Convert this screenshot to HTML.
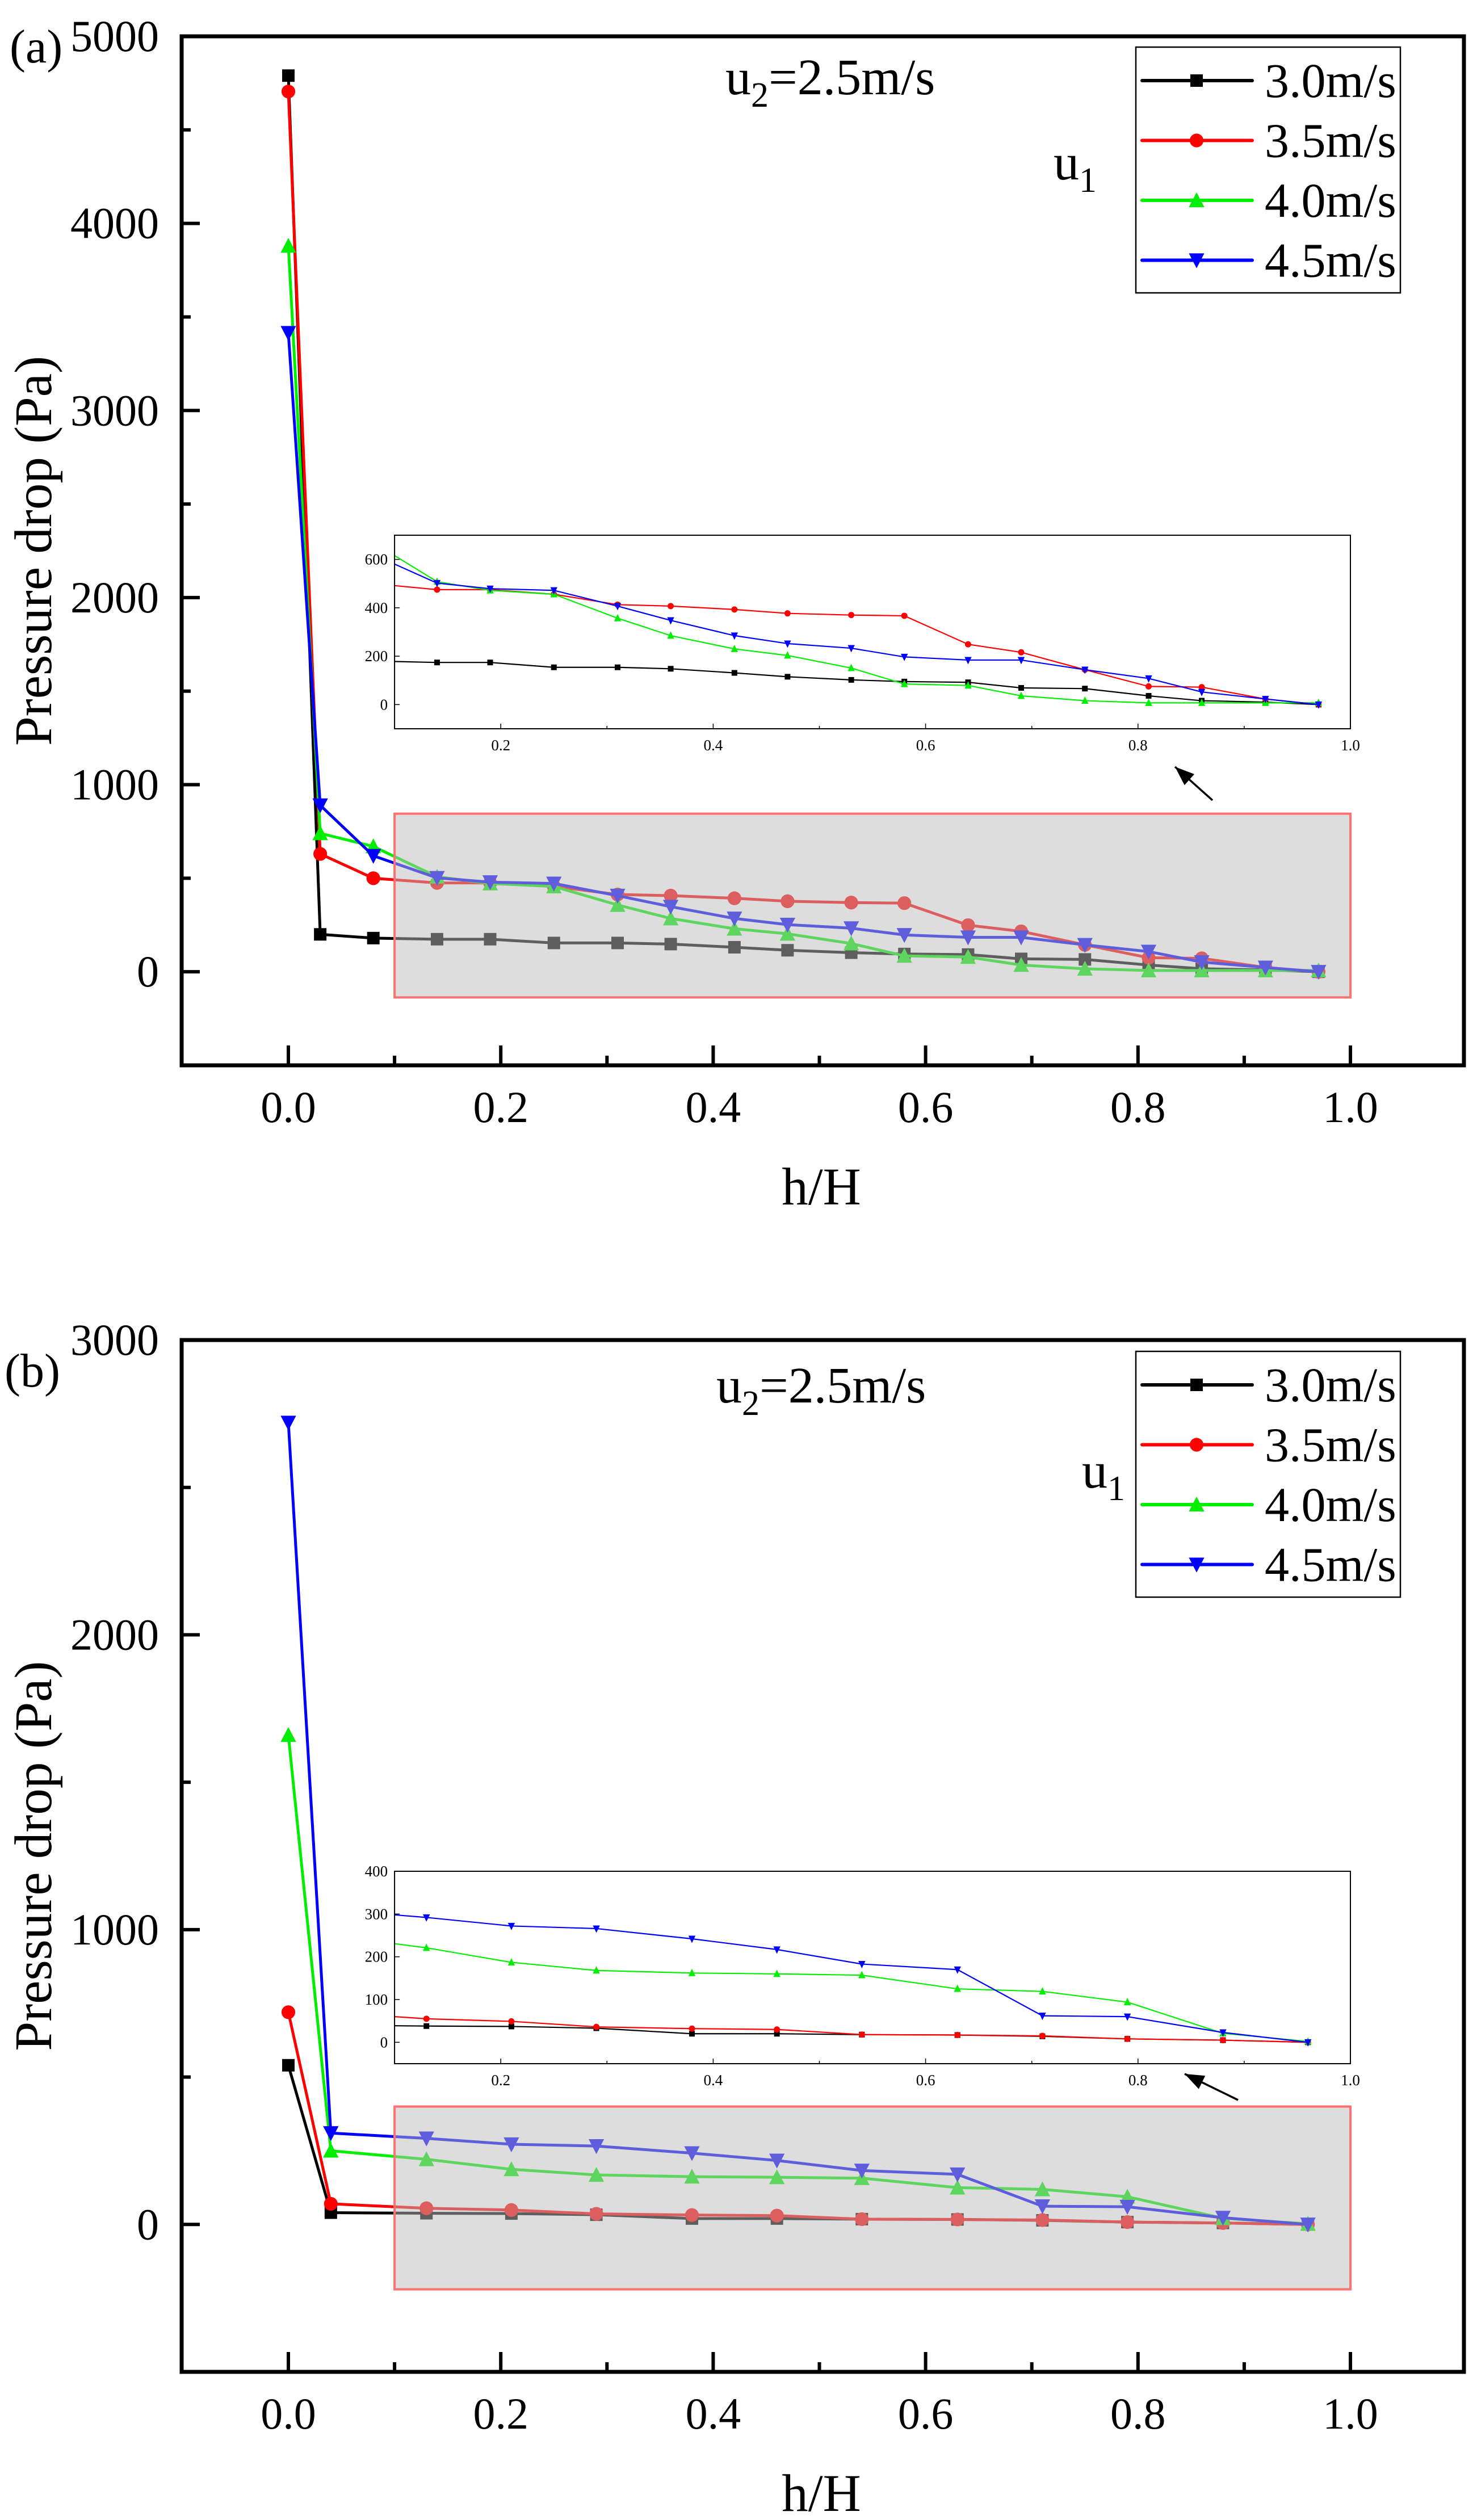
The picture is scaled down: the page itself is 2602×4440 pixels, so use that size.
<!DOCTYPE html>
<html><head><meta charset="utf-8"><style>
html,body{margin:0;padding:0;background:#fff;}
svg{display:block;font-family:"Liberation Serif",serif;}
</style></head><body>
<svg id="chart" xmlns="http://www.w3.org/2000/svg" width="2602" height="4440" viewBox="0 0 2602 4440"></svg>
<script>
// ---------- Data ----------
const seriesNames = ["3.0m/s","3.5m/s","4.0m/s","4.5m/s"];
const seriesColors = ["#000000","#ff0000","#00ee00","#0000ff"];
const markerShapes = ["square","circle","up","down"];

const xA = [0,0.03,0.08,0.14,0.19,0.25,0.31,0.36,0.42,0.47,0.53,0.58,0.64,0.69,0.75,0.81,0.86,0.92,0.97];
const a30 = [4790,200,180,174,174,154,154,148,131,115,102,95,92,69,66,36,16,10,0];
const a35 = [4705,630,500,475,475,456,413,407,393,377,370,367,249,216,144,75,72,23,0];
const a40 = [3880,740,670,508,472,456,357,285,230,203,151,85,79,36,16,7,7,7,7];
const a45 = [3415,890,620,502,479,472,407,348,285,252,233,197,184,184,144,108,52,23,0];
const yTicksA = [0,1000,2000,3000,4000,5000];
const insetYTicksA = [0,200,400,600];

const xB = [0,0.04,0.13,0.21,0.29,0.38,0.46,0.54,0.63,0.71,0.79,0.88,0.96];
const b30 = [540,40,38,37,33,20,20,18,17,14,8,5,0];
const b35 = [720,70,55,49,36,32,30,18,17,15,8,5,0];
const b40 = [1660,250,221,187,168,162,160,157,125,119,94,21,2];
const b45 = [2720,310,292,272,266,242,217,183,170,62,60,23,0];
const yTicksB = [0,1000,2000,3000];
const insetYTicksB = [0,100,200,300,400];

const xTicks = [0,0.2,0.4,0.6,0.8,1.0];
const insetXTicks = [0.2,0.4,0.6,0.8,1.0];

// ---------- Helpers ----------
const NS = "http://www.w3.org/2000/svg";
const svg = document.getElementById("chart");
function mk(tag, attrs, parent){
  const e = document.createElementNS(NS, tag);
  for (const k in attrs) e.setAttribute(k, attrs[k]);
  (parent||svg).appendChild(e);
  return e;
}
function marker(shape, cx, cy, s, color, parent){
  let e;
  if (shape==="square") e = mk("rect",{x:cx-s/2,y:cy-s/2,width:s,height:s,fill:color},parent);
  else if (shape==="circle") e = mk("circle",{cx:cx,cy:cy,r:s*0.55,fill:color},parent);
  else if (shape==="up") { const h=s*1.1; e = mk("polygon",{points:`${cx-s*0.62},${cy+h/2} ${cx+s*0.62},${cy+h/2} ${cx},${cy-h/2-2}`,fill:color},parent); }
  else { const h=s*1.1; e = mk("polygon",{points:`${cx-s*0.62},${cy-h/2} ${cx+s*0.62},${cy-h/2} ${cx},${cy+h/2+2}`,fill:color},parent); }
  return e;
}

function drawPanel(cfg){
  const g = mk("g",{});
  
  
  const L=320, R=2579, T=cfg.top, B=cfg.bottom;
  const X = v => 508 + (v)*1871;
  const Y = v => B - (v - cfg.ymin)/(cfg.ymax-cfg.ymin)*(B-T);

  // series lines + markers
  cfg.series.forEach((vals,i)=>{
    const pts = cfg.xs.map((x,j)=>`${X(x)},${Y(vals[j])}`).join(" ");
    const pl = mk("polyline",{points:pts,fill:"none",stroke:seriesColors[i],"stroke-width":5,"stroke-linejoin":"round"},g);
    
    
    cfg.xs.forEach((x,j)=>{
      const m = marker(markerShapes[i], X(x), Y(vals[j]), 22, seriesColors[i], g);
      
      
    });
  });

  // highlight box
  const hb = mk("rect",{x:X(0.1),y:Y(cfg.boxTop),width:X(1.0)-X(0.1),height:Y(cfg.boxBot)-Y(cfg.boxTop),fill:"rgba(188,188,188,0.5)",stroke:"#ff7070","stroke-width":4},g);
  
  

  // frame
  const fr = mk("rect",{x:L,y:T,width:R-L,height:B-T,fill:"none",stroke:"#000","stroke-width":7},g);
  
  

  // y ticks
  for (let v=cfg.ymin+500; v<=cfg.ymax; v+=500){
    const major = v%1000===0;
    mk("line",{x1:L,x2:L+(major?32:16),y1:Y(v),y2:Y(v),stroke:"#000","stroke-width":6},g);
  }
  cfg.yticks.forEach(v=>{
    const t = mk("text",{x:280,y:Y(v)+26,"text-anchor":"end","font-size":78},g);
    t.textContent = v;
    
    
  });
  // x ticks
  for (let k=0;k<=10;k++){
    const v=k/10, major=k%2===0;
    mk("line",{x1:X(v),x2:X(v),y1:B,y2:B-(major?35:17),stroke:"#000","stroke-width":6},g);
  }
  xTicks.forEach(v=>{
    const t = mk("text",{x:X(v),y:B+100,"text-anchor":"middle","font-size":78},g);
    t.textContent = v.toFixed(1);
    
    
  });
  // axis titles
  const xt = mk("text",{x:1447,y:B+245,"text-anchor":"middle","font-size":93},g);
  xt.textContent = "h/H";
  
  
  const yc = (T+B)/2;
  const yt = mk("text",{x:0,y:0,"text-anchor":"middle","font-size":93,transform:`translate(90,${yc}) rotate(-90)`},g);
  yt.textContent = "Pressure drop (Pa)";
  
  
  // panel label
  const pl = mk("text",{x:cfg.labelX,y:cfg.labelY,"font-size":84},g);
  pl.textContent = cfg.label;
  
  
  // u2 annotation
  const u2 = mk("text",{x:cfg.u2x,y:cfg.u2y,"font-size":90},g);
  u2.innerHTML = 'u<tspan font-size="62" dy="22">2</tspan><tspan dy="-22">=2.5m/s</tspan>';
  
  
  const u1 = mk("text",{x:cfg.u1x,y:cfg.u1y,"font-size":90},g);
  u1.innerHTML = 'u<tspan font-size="62" dy="22">1</tspan>';
  
  

  // legend
  const lg = mk("g",{},g);
  
  
  mk("rect",{x:2001,y:cfg.legTop,width:466,height:433,fill:"#fff",stroke:"#000","stroke-width":2.5},lg);
  seriesNames.forEach((n,i)=>{
    const ey = cfg.legTop + 59 + i*105.5;
    const e = mk("g",{},lg);
    
    
    mk("line",{x1:2012,x2:2206,y1:ey,y2:ey,stroke:seriesColors[i],"stroke-width":6,"stroke-linecap":"round"},e);
    marker(markerShapes[i],2108,ey,22,seriesColors[i],e);
    const t = mk("text",{x:2228,y:ey+29,"font-size":86},e);
    t.textContent = n;
  });

  // inset
  const ig = mk("g",{},g);
  
  
  const iL=X(0.1), iR=X(1.0), iT=cfg.inTop, iB=cfg.inBot;
  const IX = v => iL + (v-0.1)/0.9*(iR-iL);
  const IY = v => iB - (v-cfg.inYmin)/(cfg.inYmax-cfg.inYmin)*(iB-iT);
  mk("rect",{x:iL,y:iT,width:iR-iL,height:iB-iT,fill:"#fff",stroke:"none"},ig);
  const cid = "clip"+cfg.label.replace(/[()]/g,"");
  const cp = mk("clipPath",{id:cid},ig);
  mk("rect",{x:iL,y:iT,width:iR-iL,height:iB-iT},cp);
  const dg = mk("g",{"clip-path":`url(#${cid})`},ig);
  cfg.series.forEach((vals,i)=>{
    const pts = cfg.xs.map((x,j)=>`${IX(x)},${IY(vals[j])}`).join(" ");
    const l = mk("polyline",{points:pts,fill:"none",stroke:seriesColors[i],"stroke-width":2.2},dg);
    
    
    cfg.xs.forEach((x,j)=>{ if (x>=0.1) marker(markerShapes[i],IX(x),IY(vals[j]),10,seriesColors[i],dg); });
  });
  mk("rect",{x:iL,y:iT,width:iR-iL,height:iB-iT,fill:"none",stroke:"#000","stroke-width":2},ig);
  cfg.inYticks.forEach(v=>{
    mk("line",{x1:iL,x2:iL+9,y1:IY(v),y2:IY(v),stroke:"#000","stroke-width":1.5},ig);
    const t = mk("text",{x:iL-12,y:IY(v)+9,"text-anchor":"end","font-size":27},ig);
    t.textContent = v;
    
    
  });
  for (let k=1;k<=10;k++){
    const v=k/10;
    mk("line",{x1:IX(v),x2:IX(v),y1:iB,y2:iB-(k%2===0?9:5),stroke:"#000","stroke-width":1.5},ig);
  }
  insetXTicks.forEach(v=>{
    const t = mk("text",{x:IX(v),y:iB+38,"text-anchor":"middle","font-size":27},ig);
    t.textContent = v.toFixed(1);
    
    
  });
  // arrow
  const ar = mk("g",{},g);
  
  
  const [x1,y1,x2,y2] = cfg.arrow;
  mk("line",{x1:x1,y1:y1,x2:x2,y2:y2,stroke:"#000","stroke-width":3.5},ar);
  const ang = Math.atan2(y2-y1,x2-x1), hl=34, hw=13;
  const bx = x2-hl*Math.cos(ang), by = y2-hl*Math.sin(ang);
  mk("polygon",{points:`${x2},${y2} ${bx+hw*Math.sin(ang)},${by-hw*Math.cos(ang)} ${bx-hw*Math.sin(ang)},${by+hw*Math.cos(ang)}`,fill:"#000"},ar);
}

drawPanel({name:"panel-a",label:"(a)",labelX:17,labelY:110,top:64,bottom:1877,ymin:-500,ymax:5000,
  xs:xA,series:[a30,a35,a40,a45],yticks:yTicksA,boxTop:845,boxBot:-137,
  inTop:943,inBot:1284,inYmin:-100,inYmax:700,inYticks:insetYTicksA,
  u2x:1278,u2y:166,u1x:1856,u1y:316,legTop:83,arrow:[2136,1410,2070,1351]});

drawPanel({name:"panel-b",label:"(b)",labelX:8,labelY:2443,top:2361,bottom:4179,ymin:-500,ymax:3000,
  xs:xB,series:[b30,b35,b40,b45],yticks:yTicksB,boxTop:400,boxBot:-220,
  inTop:3297,inBot:3636,inYmin:-50,inYmax:400,inYticks:insetYTicksB,
  u2x:1262,u2y:2471,u1x:1906,u1y:2621,legTop:2381,arrow:[2181,3700,2087,3654]});
</script>
</body></html>
